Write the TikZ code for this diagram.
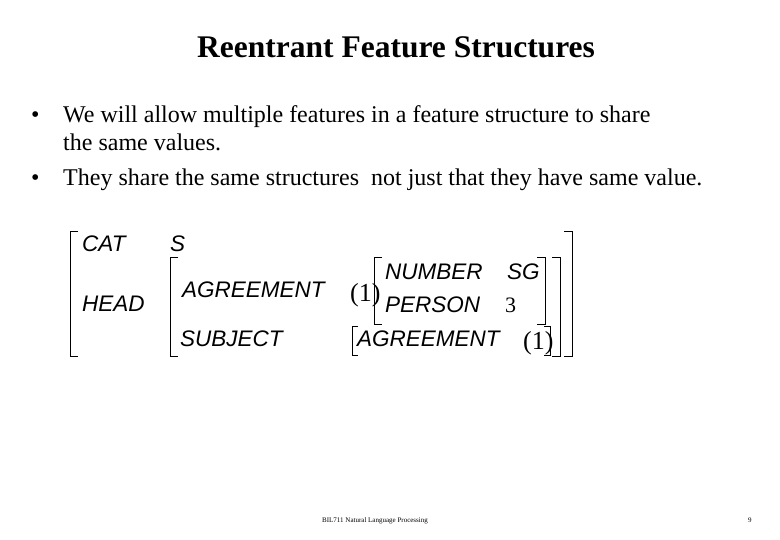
\documentclass[tikz,border=0pt]{standalone}
\usepackage{fontspec}
\setmainfont{Liberation Serif}
\setsansfont{Liberation Sans}
\usetikzlibrary{positioning}

\begin{document}
\begin{tikzpicture}[
      x = 1pt, y = -1pt,
      txt/.style = { anchor = base west, inner sep = 0pt },
      feat/.style = { txt, font = \sffamily\itshape\fontsize{22.5}{24}\selectfont },
      body/.style = { txt, font = \fontsize{24}{28}\selectfont },
      tag/.style = { txt, font = \fontsize{26}{28}\selectfont },
      brk/.style = { line width = 1pt },
    ]
    \useasboundingbox (0,0) rectangle (780,540);

    % title and bullets
    \node[txt, font = \bfseries\fontsize{31.5}{34}\selectfont] (title) at (197,58) {Reentrant Feature Structures};
    \node[body] (b1) at (31,123) {\textbullet};
    \node[body] (t1) at (63,123) {We will allow multiple features in a feature structure to share};
    \node[body] (t1b) at (63,151) {the same values.};
    \node[body] (b2) at (31,186) {\textbullet};
    \node[body] (t2) at (63,186) {They share the same structures\ \ not just that they have same value.};

    % feature structure
    \node[feat] (cat) at (82,252) {CAT};
    \node[feat] (s) at (170,252) {S};
    \node[feat] (head) at (82,312) {HEAD};
    \node[feat] (agr) at (182,298) {AGREEMENT};
    \node[feat] (subj) at (180,347) {SUBJECT};
    \node[tag] (tagA) at (350,302) {(1)};
    \node[feat] (num) at (385,280) {NUMBER};
    \node[feat] (sg) at (507,280) {SG};
    \node[feat] (per) at (385,313) {PERSON};
    \node[txt, font = \fontsize{22}{24}\selectfont] (three) at (505,313) {3};
    \node[feat] (agr2) at (357,347) {AGREEMENT};
    \node[tag] (tagB) at (523,350) {(1)};

    % brackets
    \foreach \xa/\xb/\ya/\yb in {70/572/232/357, 170/560/258/357, 374/545/258/325} {
      \draw[brk] (\xa+8,\ya) -- (\xa,\ya) -- (\xa,\yb) -- (\xa+8,\yb);
      \draw[brk] (\xb-8,\ya) -- (\xb,\ya) -- (\xb,\yb) -- (\xb-8,\yb);
    }
    \draw[brk] (358,327) -- (352,327) -- (352,356) -- (358,356);
    \draw[brk] (544,327) -- (550,327) -- (550,356) -- (544,356);

    % footer
    \node[txt, font = \fontsize{7}{8}\selectfont] (foot) at (322,522) {BIL711 Natural Language Processing};
    \node[txt, font = \fontsize{7}{8}\selectfont] (page) at (748,522) {9};
  \end{tikzpicture}
\end{document}
